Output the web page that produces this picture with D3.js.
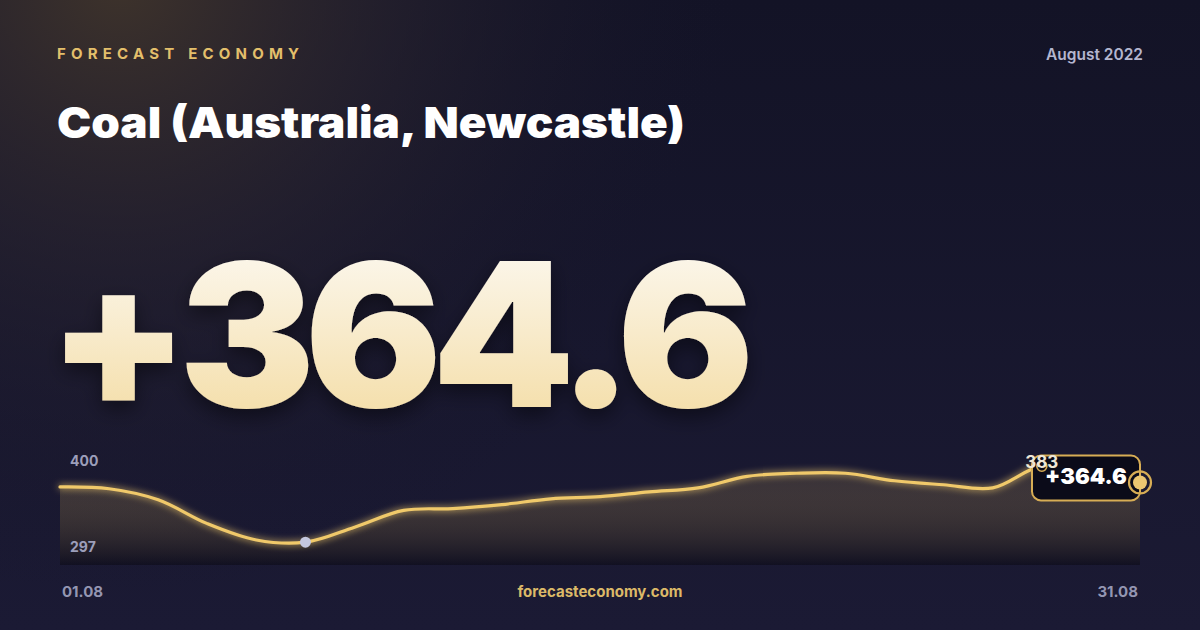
<!DOCTYPE html>
<html>
<head>
<meta charset="utf-8">
<script src="https://cdn.jsdelivr.net/npm/d3@7"></script>
<style>
  html, body { margin: 0; padding: 0; background: #17162a; }
  svg { display: block; }
  text { font-family: Inter, "Noto Sans", sans-serif; }
</style>
</head>
<body>
<svg id="chart" width="1200" height="630"></svg>
<script>
// ---- data ----
const brand = "FORECAST ECONOMY";
const title = "Coal (Australia, Newcastle)";
const period = "August 2022";
const headline = "+364.6";
const site = "forecasteconomy.com";
const dateLabels = ["01.08", "31.08"];
// trading days of August 2022 (weekdays)
const days = ["01.08","02.08","03.08","04.08","05.08","08.08","09.08","10.08","11.08","12.08","15.08","16.08","17.08","18.08","19.08","22.08","23.08","24.08","25.08","26.08","29.08","30.08","31.08"];
const prices = [359.5, 357.5, 345.0, 318.0, 299.5, 297.0, 314.0, 333.0, 335.0, 339.5, 346.0, 348.5, 354.0, 358.5, 371.5, 375.0, 375.0, 366.5, 362.0, 358.5, 383.0, 375.0, 364.6];

const svg = d3.select("#chart");
const W = 1200, H = 630;
const defs = svg.append("defs");

// background
const bg = defs.append("linearGradient").attr("id", "bg").attr("x1", 0).attr("y1", 0).attr("x2", 0).attr("y2", 1);
bg.append("stop").attr("offset", "0%").attr("stop-color", "#131326");
bg.append("stop").attr("offset", "100%").attr("stop-color", "#1b1a34");
const glow = defs.append("radialGradient").attr("id", "warm")
  .attr("gradientUnits", "userSpaceOnUse").attr("cx", 120).attr("cy", -20).attr("r", 620);
glow.append("stop").attr("offset", "0%").attr("stop-color", "#3e332b").attr("stop-opacity", 1);
glow.append("stop").attr("offset", "45%").attr("stop-color", "#2c2630").attr("stop-opacity", 0.55);
glow.append("stop").attr("offset", "100%").attr("stop-color", "#15142a").attr("stop-opacity", 0);
svg.append("rect").attr("width", W).attr("height", H).attr("fill", "url(#bg)");
svg.append("rect").attr("width", W).attr("height", H).attr("fill", "url(#warm)");

// header texts
svg.append("text").attr("x", 57).attr("y", 59).text(brand)
  .attr("font-size", 15).attr("font-weight", 700).attr("letter-spacing", 5.2)
  .attr("fill", "#e3bf6b");
svg.append("text").attr("x", 1143).attr("y", 60).attr("text-anchor", "end").text(period)
  .attr("font-size", 15.5).attr("font-weight", 600).attr("fill", "#b4b6cf");
svg.append("text").attr("x", 57).attr("y", 138).text(title)
  .attr("font-size", 43).attr("font-weight", 900)
  .attr("textLength", 628).attr("lengthAdjust", "spacingAndGlyphs")
  .attr("fill", "#ffffff");

// headline number
const hg = defs.append("linearGradient").attr("id", "hg").attr("x1", 0).attr("y1", 0).attr("x2", 0).attr("y2", 1);
hg.append("stop").attr("offset", "0%").attr("stop-color", "#fdfcfa");
hg.append("stop").attr("offset", "100%").attr("stop-color", "#f3d99b");
const sh = defs.append("filter").attr("id", "shadow").attr("x", "-10%").attr("y", "-20%").attr("width", "120%").attr("height", "150%");
sh.append("feDropShadow").attr("dx", 0).attr("dy", 8).attr("stdDeviation", 10)
  .attr("flood-color", "#000000").attr("flood-opacity", 0.45);
svg.append("text").attr("x", 48).attr("y", 407).text(headline)
  .attr("font-size", 200).attr("font-weight", 900).attr("letter-spacing", -10)
  .attr("textLength", 696).attr("lengthAdjust", "spacingAndGlyphs")
  .attr("fill", "url(#hg)").attr("filter", "url(#shadow)");

// chart scales
const x = d3.scalePoint().domain(days).range([60, 1140]);
const vmin = d3.min(prices), vmax = d3.max(prices), span = vmax - vmin;
const y = d3.scaleLinear().domain([vmin - span * 0.3, vmax + span * 0.2]).range([565, 451]);

// area
const ag = defs.append("linearGradient").attr("id", "ag").attr("x1", 0).attr("y1", 0).attr("x2", 0).attr("y2", 1);
ag.append("stop").attr("offset", "0%").attr("stop-color", "#e6bf66").attr("stop-opacity", 0.13);
ag.append("stop").attr("offset", "100%").attr("stop-color", "#0a0914").attr("stop-opacity", 0.55);
const curve = d3.curveCatmullRom.alpha(0.5);
svg.append("path").datum(prices)
  .attr("d", d3.area().x((d, i) => x(days[i])).y0(565).y1(d => y(d)).curve(curve))
  .attr("fill", "url(#ag)");

// glowing line
const lg = defs.append("filter").attr("id", "glow").attr("x", "-5%").attr("y", "-50%").attr("width", "110%").attr("height", "200%");
lg.append("feGaussianBlur").attr("in", "SourceGraphic").attr("stdDeviation", 3.5).attr("result", "b");
const m = lg.append("feMerge");
m.append("feMergeNode").attr("in", "b");
m.append("feMergeNode").attr("in", "SourceGraphic");
svg.append("path").datum(prices)
  .attr("d", d3.line().x((d, i) => x(days[i])).y(d => y(d)).curve(curve))
  .attr("fill", "none").attr("stroke", "#f0c96b").attr("stroke-width", 3.2)
  .attr("stroke-linecap", "round").attr("filter", "url(#glow)");

// axis-like labels
svg.append("text").attr("x", 70).attr("y", 466).text(d3.format(".0f")(y.domain()[1]))
  .attr("font-size", 14).attr("font-weight", 700).attr("fill", "#9c9eba");
svg.append("text").attr("x", 70).attr("y", 552).text(d3.format(".0f")(vmin))
  .attr("font-size", 14).attr("font-weight", 700).attr("fill", "#9c9eba");

// min marker
const iMin = prices.indexOf(vmin), iMax = prices.indexOf(vmax), iLast = prices.length - 1;
svg.append("circle").attr("cx", x(days[iMin])).attr("cy", y(vmin)).attr("r", 5.5).attr("fill", "#c4c7df");

// value box
const lx = x(days[iLast]), ly = y(prices[iLast]);
svg.append("rect").attr("x", lx - 108).attr("y", ly - 27).attr("width", 108).attr("height", 45).attr("rx", 9)
  .attr("fill", "#0b0b19").attr("stroke", "#d7ad55").attr("stroke-width", 2);
svg.append("text").attr("x", lx - 95).attr("y", ly + 2).text(headline)
  .attr("font-size", 22).attr("font-weight", 900).attr("fill", "#ffffff");

// max marker and label
svg.append("circle").attr("cx", x(days[iMax])).attr("cy", y(vmax)).attr("r", 5)
  .attr("fill", "none").attr("stroke", "#d7ad55").attr("stroke-width", 1.6);
svg.append("text").attr("x", x(days[iMax])).attr("y", y(vmax) + 2).attr("text-anchor", "middle").text(d3.format(".0f")(vmax))
  .attr("font-size", 17).attr("font-weight", 700).attr("fill", "#eee6d6");

// last point marker
svg.append("circle").attr("cx", lx).attr("cy", ly).attr("r", 11).attr("fill", "none").attr("stroke", "#d7ad55").attr("stroke-width", 2.2);
svg.append("circle").attr("cx", lx).attr("cy", ly).attr("r", 7).attr("fill", "#ecc771");

// footer
svg.append("text").attr("x", 62).attr("y", 597).text(dateLabels[0])
  .attr("font-size", 15).attr("font-weight", 700).attr("fill", "#9496b2");
svg.append("text").attr("x", 1138).attr("y", 597).attr("text-anchor", "end").text(dateLabels[1])
  .attr("font-size", 15).attr("font-weight", 700).attr("fill", "#9496b2");
svg.append("text").attr("x", 600).attr("y", 597).attr("text-anchor", "middle").text(site)
  .attr("font-size", 15).attr("font-weight", 700).attr("fill", "#dcb968");
</script>
</body>
</html>
